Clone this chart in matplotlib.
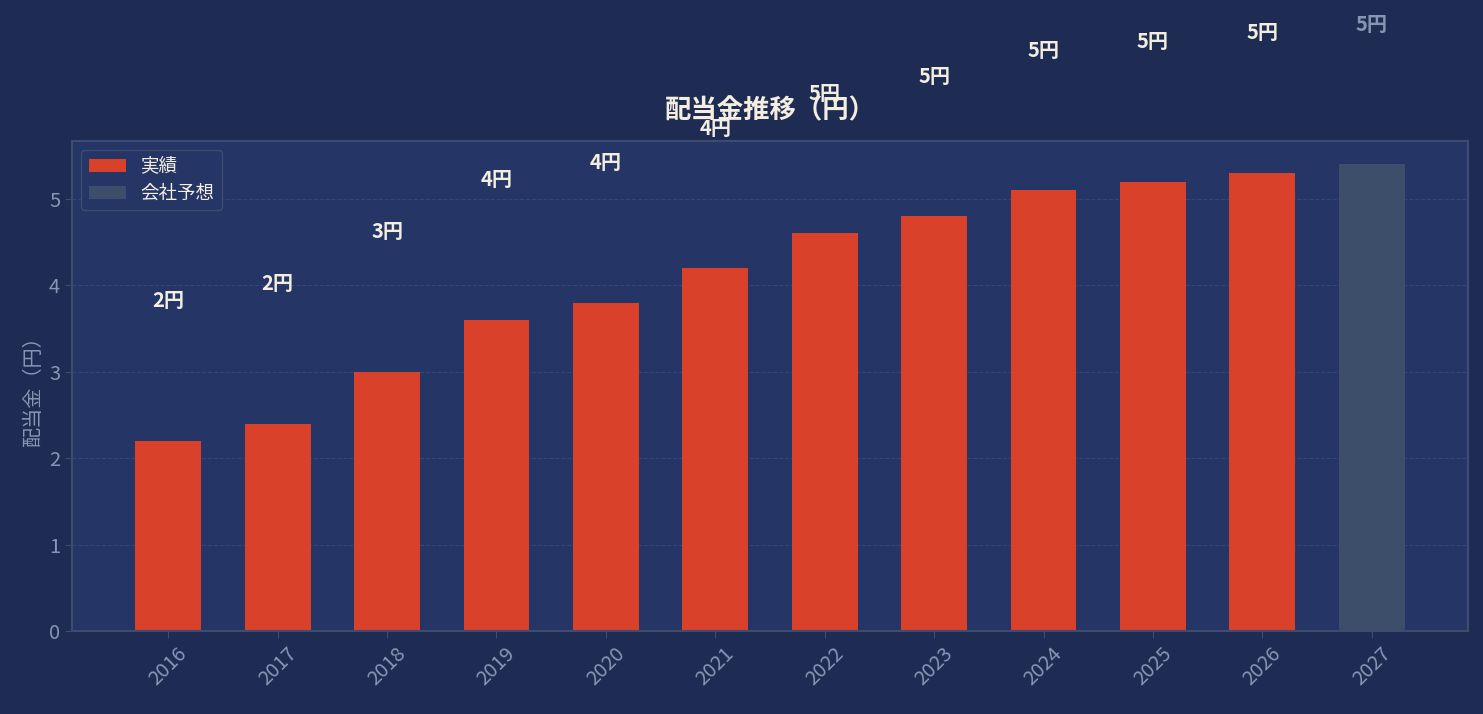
import numpy as np
import matplotlib
matplotlib.use("Agg")
import matplotlib.pyplot as plt
from matplotlib.patches import Patch

plt.rcParams["font.family"] = ["Noto Sans CJK JP", "DejaVu Sans"]

years = ["2016", "2017", "2018", "2019", "2020", "2021", "2022", "2023", "2024", "2025", "2026", "2027"]
dividends = [2.2, 2.4, 3.0, 3.6, 3.8, 4.2, 4.6, 4.8, 5.1, 5.2, 5.3, 5.4]
is_forecast = [False] * 11 + [True]

bg = "#1e2b53"
ax_bg = "#243566"
red = "#d9412b"
gray_bar = "#3d4e6b"
spine_c = "#3d4d70"
tick_c = "#8797b3"
text_c = "#f3eedf"

fig = plt.figure(figsize=(14.83, 7.14), dpi=100, facecolor=bg)
ax = fig.add_axes([72 / 1483, 1 - 631 / 714, (1468 - 72) / 1483, (631 - 141) / 714])
ax.set_facecolor(ax_bg)

x = np.arange(len(years))
colors = [gray_bar if f else red for f in is_forecast]
ax.bar(x, dividends, width=0.6, color=colors, zorder=2)

# value labels sit well above the bars (offset = 30% of max)
top = max(dividends)
for i, v in enumerate(dividends):
  c = tick_c if is_forecast[i] else text_c
  ax.text(i, v + top * 0.3, f"{v:.0f}円", ha="center", va="center",
          fontsize=14.5, fontweight="bold", color=c, clip_on=False, zorder=3)

ax.set_xticks(x)
ax.set_xticklabels(years, rotation=45, fontsize=14.5, color=tick_c)
ax.tick_params(colors=spine_c, labelcolor=tick_c, length=5, labelsize=14.5)
ax.set_ylabel("配当金（円）", fontsize=14.5, color=tick_c)
ax.set_title("配当金推移（円）", fontsize=19, fontweight="bold", color=text_c, pad=16)
ax.yaxis.grid(True, linestyle="--", color="#34457a", linewidth=0.8, zorder=0)
ax.set_axisbelow(True)
for s in ax.spines.values():
  s.set_color(spine_c)
  s.set_linewidth(1.5)

handles = [Patch(facecolor=red, label="実績"), Patch(facecolor=gray_bar, label="会社予想")]
leg = ax.legend(handles=handles, loc="upper left", fontsize=13.3, facecolor=ax_bg,
                edgecolor=spine_c, labelcolor=text_c, framealpha=1)

fig.savefig("out.png", facecolor=fig.get_facecolor())
